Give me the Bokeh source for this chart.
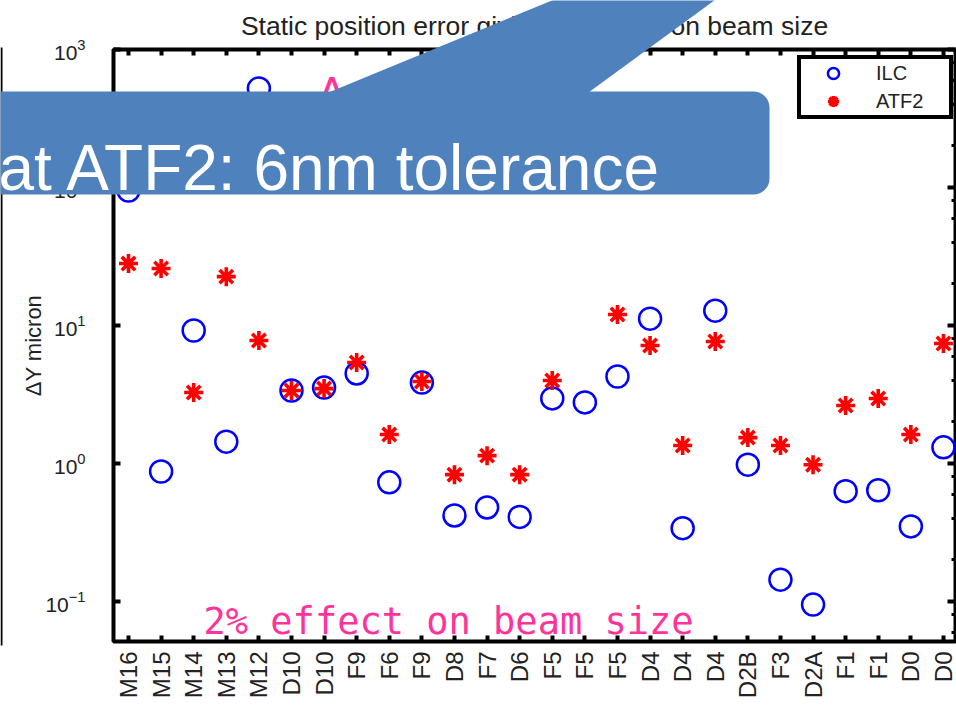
import numpy as np
from bokeh.plotting import figure
from bokeh.layouts import column
from bokeh.models import (Range1d, LogAxis, LinearAxis, FixedTicker, LogTicker,
                          BoxAnnotation, PolyAnnotation, Label, Legend, LegendItem,
                          ColumnDataSource, CustomJSTickFormatter)
from bokeh.embed import file_html
from bokeh.resources import INLINE

# ---- data ----
magnets = ["M16", "M15", "M14", "M13", "M12", "D10", "D10", "F9", "F6", "F9",
           "D8", "F7", "D6", "F5", "F5", "F5", "D4", "D4", "D4", "D2B",
           "F3", "D2A", "F1", "F1", "D0", "D0"]
ilc = [95.0, 0.875, 9.2, 1.44, 522.0, 3.38, 3.55, 4.49, 0.73, 3.86,
       0.42, 0.48, 0.41, 2.96, 2.77, 4.27, 11.2, 0.34, 12.8, 0.98,
       0.144, 0.095, 0.63, 0.64, 0.35, 1.31]
atf2 = [28.1, 25.9, 3.27, 22.6, 7.79, 3.38, 3.49, 5.39, 1.62, 3.93,
        0.83, 1.14, 0.83, 3.99, np.nan, 12.0, 7.16, 1.35, 7.66, 1.54,
        1.35, 0.98, 2.63, 2.96, 1.62, 7.41]
positions = list(range(1, len(magnets) + 1))

title_text = "Static position error giving 2% effect on beam size"
ylabel = "ΔY micron"
callout_text = "at ATF2: 6nm tolerance"
note_text = "2% effect on beam size"

src = ColumnDataSource(dict(x=positions, ilc=ilc, atf2=atf2))

W, H = 956, 705
p = figure(width=W, height=H, output_backend="svg", toolbar_location=None,
           x_range=Range1d(0.54, 26.37), y_range=Range1d(10 ** -1.29, 1000),
           y_axis_type="log", title=title_text,
           min_border_left=113, min_border_right=1, min_border_top=49,
           min_border_bottom=64, background_fill_color="white",
           border_fill_color="white")
p.frame_align = False
p.grid.visible = False
p.outline_line_color = "black"
p.outline_line_width = 4

p.title.align = "center"
p.title.text_font = "Liberation Sans"
p.title.text_font_size = "26.5px"
p.title.text_font_style = "normal"
p.title.text_color = "#222222"
p.title.standoff = 17

tick_color = "#222222"

# bottom axis
xa = p.xaxis[0]
xa.ticker = FixedTicker(ticks=positions)
xa.major_label_overrides = {i: lab for i, lab in zip(positions, magnets)}
xa.major_label_orientation = np.pi / 2
xa.major_label_text_font = "Liberation Sans"
xa.major_label_text_font_size = "24px"
xa.major_label_text_color = tick_color
xa.major_label_standoff = 10
xa.major_tick_in = 6
xa.major_tick_out = 0
xa.major_tick_line_width = 4
xa.minor_tick_line_color = None
xa.axis_line_color = None

# left axis
ya = p.yaxis[0]
ya.major_label_text_font = "Liberation Sans"
ya.major_label_text_font_size = "21px"
ya.major_label_text_color = tick_color
ya.major_label_standoff = 24
ya.major_tick_in = 7
ya.major_tick_out = 0
ya.major_tick_line_width = 4
ya.minor_tick_line_color = None
ya.axis_line_color = None
ya.axis_label = ylabel
ya.axis_label_text_font = "Liberation Sans"
ya.axis_label_text_font_size = "22px"
ya.axis_label_text_font_style = "normal"
ya.axis_label_text_color = tick_color
ya.axis_label_standoff = -4

top = LinearAxis(ticker=FixedTicker(ticks=positions),
                 formatter=CustomJSTickFormatter(code="return ''"),
                 major_label_text_font_size="0px", major_label_standoff=0,
                 major_tick_in=6, major_tick_out=0, major_tick_line_width=4,
                 minor_tick_line_color=None, axis_line_color=None)
p.add_layout(top, "above")

right = LogAxis(ticker=LogTicker(), formatter=CustomJSTickFormatter(code="return ''"),
                major_label_text_font_size="0px", major_label_standoff=0,
                major_tick_in=8, major_tick_out=0, major_tick_line_width=4,
                minor_tick_in=4, minor_tick_out=0, minor_tick_line_width=3,
                axis_line_color=None)
p.add_layout(right, "right")

r_ilc = p.scatter("x", "ilc", source=src, marker="circle", size=22,
                  fill_color=None, line_color="#0000FF", line_width=2.5)
r_atf = p.scatter("x", "atf2", source=src, marker="asterisk", size=19,
                  line_color="#FF0000", line_width=3.6)

legend = Legend(items=[LegendItem(label="ILC", renderers=[r_ilc]),
                       LegendItem(label="ATF2", renderers=[r_atf])],
                location=(684, 522), padding=0, spacing=0, margin=0,
                glyph_width=64, glyph_height=28, label_standoff=11,
                label_width=73, label_height=20,
                label_text_font="Liberation Sans", label_text_font_size="20px",
                label_text_color=tick_color,
                border_line_color="black", border_line_width=4,
                border_line_alpha=1,
                background_fill_color="white", background_fill_alpha=1)
p.add_layout(legend)

# pink note inside the plot
p.add_layout(Label(x=203, y=621, x_units="canvas", y_units="canvas", text=note_text,
                   text_font="DejaVu Sans Mono", text_font_size="37px",
                   text_color="#FF3399", text_baseline="alphabetic"))

# ---- transparent overlay layer for the slide callout (pixel coordinates) ----
ov = figure(width=W, height=H, output_backend="svg", toolbar_location=None,
            x_range=Range1d(0, W), y_range=Range1d(H, 0),
            x_axis_location=None, y_axis_location=None, min_border=0,
            background_fill_alpha=0, border_fill_alpha=0,
            outline_line_color=None, margin=(-H, 0, 0, 0))
ov.frame_align = False
ov.grid.visible = False

# pink mark partly hidden under the callout
ov.add_layout(Label(x=317, y=93, text="Λ", text_font="DejaVu Sans",
                    text_font_size="42px", text_color="#FF3399",
                    text_baseline="alphabetic"))
# left frame line of the slide
ov.add_layout(BoxAnnotation(left=0, right=2, top=47, bottom=645,
                            fill_color="black", fill_alpha=1, line_color=None))
blue = "#4F81BD"
ov.add_layout(PolyAnnotation(xs=[328, 923, 588], ys=[92, -153, 92],
                             fill_color=blue, fill_alpha=1, line_color=None))
ov.add_layout(BoxAnnotation(left=-30, right=769, top=91, bottom=194,
                            fill_color=blue, fill_alpha=1, line_color=None,
                            border_radius=16))
ov.add_layout(Label(x=-2, y=167, text=callout_text, text_font="Liberation Sans",
                    text_font_size="64px", text_color="white",
                    text_baseline="alphabetic"))

layout = column(p, ov, spacing=0)
open("out.html", "w").write(file_html(layout, INLINE))
